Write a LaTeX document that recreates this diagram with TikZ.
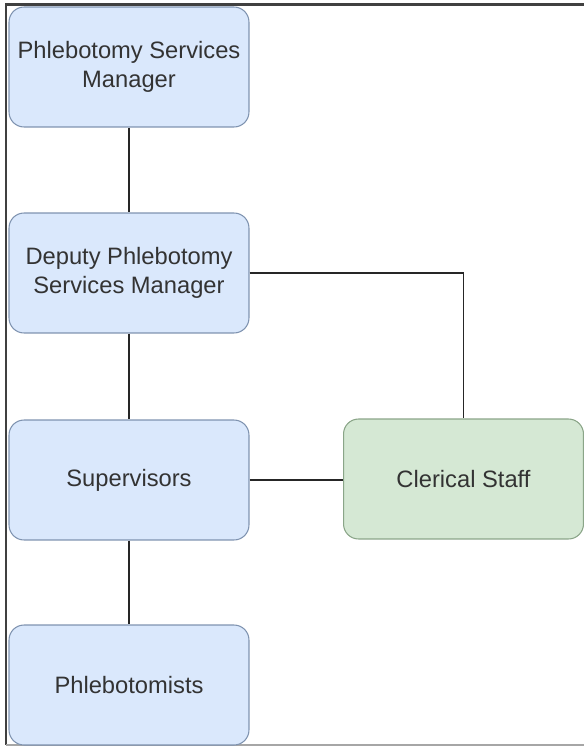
\documentclass[tikz,border=0pt]{standalone}
\usepackage{fontspec}
\setmainfont{Liberation Sans}
\definecolor{roleblue}{HTML}{DAE8FC}
\definecolor{roleblueline}{HTML}{7F93B0}
\definecolor{rolegreen}{HTML}{D5E8D4}
\definecolor{rolegreenline}{HTML}{8AA588}
\tikzset{
  rolebox/.style={draw=roleblueline, fill=roleblue, rounded corners=0.3cm,
    line width=0.6pt, minimum width=4.8cm, minimum height=2.4cm,
    align=center, text=black!80, font=\fontsize{13.5pt}{16.8pt}\selectfont},
  staffbox/.style={rolebox, draw=rolegreenline, fill=rolegreen},
  link/.style={line width=0.8pt, black!85}
}
\begin{document}
\begin{tikzpicture}[x=0.02cm, y=-0.02cm]
    \useasboundingbox (0,0) rectangle (584,747);
    % Frame
    \draw[line width=1.4pt, black!75] (590,4.5) -- (6,4.5) -- (6,745);
    \draw[line width=0.8pt, black!35] (6,745) -- (590,745);
    % Roles
    \node[rolebox] (manager) at (129,67) {Phlebotomy Services\\Manager};
    \node[rolebox] (deputy) at (129,273) {Deputy Phlebotomy\\Services Manager};
    \node[rolebox] (supervisors) at (129,480) {Supervisors};
    \node[rolebox] (phlebotomists) at (129,685) {Phlebotomists};
    \node[staffbox] (clerical) at (463.5,479) {Clerical Staff};
    % Links
    \draw[link] (manager) -- (deputy);
    \draw[link] (deputy) -- (supervisors);
    \draw[link] (supervisors) -- (phlebotomists);
    \draw[link] (supervisors.east) -- (clerical.west |- supervisors.east);
    \draw[link] (deputy.east) -| (clerical.north);
\end{tikzpicture}
\end{document}
